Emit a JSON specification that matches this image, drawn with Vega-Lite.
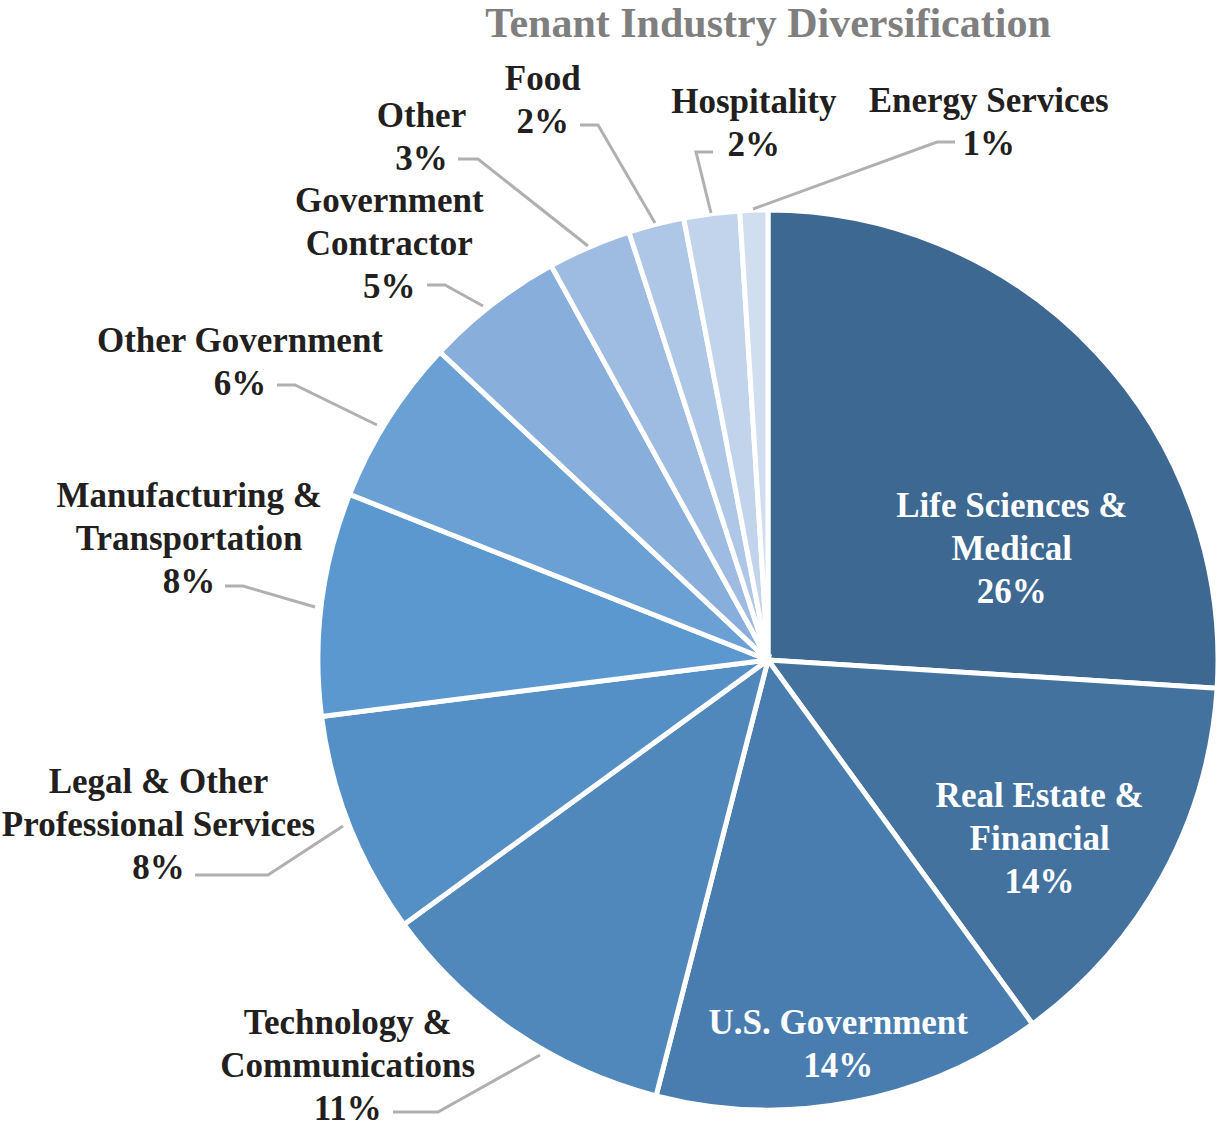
{
  "$schema": "https://vega.github.io/schema/vega-lite/v6.json",
  "width": 906,
  "height": 896,
  "autosize": {"type": "none"},
  "padding": {"left": 315, "top": 212, "right": 0, "bottom": 23},
  "background": "white",
  "title": {
    "text": "Tenant Industry Diversification",
    "anchor": "middle",
    "frame": "group",
    "font": "Liberation Serif",
    "fontSize": 42,
    "fontWeight": "bold",
    "color": "#7F7F7F",
    "baseline": "alphabetic",
    "offset": -55
  },
  "config": {
    "view": {"stroke": null},
    "text": {
      "font": "Liberation Serif",
      "fontSize": 35,
      "fontWeight": "bold",
      "lineHeight": 43,
      "lineBreak": "\n",
      "align": "center",
      "baseline": "alphabetic"
    }
  },
  "data": {
    "values": [
      {"idx": 1, "category": "Life Sciences & Medical", "pct": 26, "label": "Life Sciences &\nMedical\n26%"},
      {"idx": 2, "category": "Real Estate & Financial", "pct": 14, "label": "Real Estate &\nFinancial\n14%"},
      {"idx": 3, "category": "U.S. Government", "pct": 14, "label": "U.S. Government\n14%"},
      {"idx": 4, "category": "Technology & Communications", "pct": 11, "label": "Technology &\nCommunications\n11%"},
      {"idx": 5, "category": "Legal & Other Professional Services", "pct": 8, "label": "Legal & Other\nProfessional Services\n8%"},
      {"idx": 6, "category": "Manufacturing & Transportation", "pct": 8, "label": "Manufacturing &\nTransportation\n8%"},
      {"idx": 7, "category": "Other Government", "pct": 6, "label": "Other Government\n6%"},
      {"idx": 8, "category": "Government Contractor", "pct": 5, "label": "Government\nContractor\n5%"},
      {"idx": 9, "category": "Other", "pct": 3, "label": "Other\n3%"},
      {"idx": 10, "category": "Food", "pct": 2, "label": "Food\n2%"},
      {"idx": 11, "category": "Hospitality", "pct": 2, "label": "Hospitality\n2%"},
      {"idx": 12, "category": "Energy Services", "pct": 1, "label": "Energy Services\n1%"}
    ]
  },
  "layer": [
    {
      "mark": {"type": "arc", "radius": 450, "stroke": "#FFFFFF", "strokeWidth": 5},
      "encoding": {
        "theta": {"field": "pct", "type": "quantitative", "stack": true},
        "order": {"field": "idx", "type": "quantitative"},
        "color": {
          "field": "category",
          "type": "nominal",
          "legend": null,
          "scale": {
            "domain": ["Life Sciences & Medical", "Real Estate & Financial", "U.S. Government", "Technology & Communications", "Legal & Other Professional Services", "Manufacturing & Transportation", "Other Government", "Government Contractor", "Other", "Food", "Hospitality", "Energy Services"],
            "range": ["#3D6891", "#43729F", "#4A7DAF", "#5088BC", "#548FC6", "#5B98CF", "#6BA0D4", "#88AEDB", "#9EBCE1", "#AFC7E6", "#C2D4EC", "#D1DEF0"]
          }
        }
      }
    },
    {
      "transform": [{"filter": "datum.idx >= 4"}],
      "mark": {"type": "point", "size": 4, "filled": false, "opacity": 1, "color": "#B0B0B0", "strokeWidth": 3},
      "encoding": {
        "shape": {
          "field": "category",
          "type": "nominal",
          "legend": null,
          "scale": {
            "domain": ["Technology & Communications", "Legal & Other Professional Services", "Manufacturing & Transportation", "Other Government", "Government Contractor", "Other", "Food", "Hospitality", "Energy Services"],
            "range": [
              "M -228 395 L -330 452 L -375 452",
              "M -425 166 L -500 215 L -573 215",
              "M -453 -53 L -525 -74 L -543 -74",
              "M -391 -235 L -473 -275 L -491 -275",
              "M -285 -354 L -323 -375 L -341 -375",
              "M -180 -414 L -290 -501 L -310 -501",
              "M -113 -437 L -170 -535 L -188 -535",
              "M -57 -447 L -72 -508 L -55 -508",
              "M -15 -451 L 169 -518 L 187 -518"
            ]
          }
        }
      }
    },
    {
      "mark": {"type": "text", "radius": 270, "dx": 47, "dy": 42, "fill": "#FFFFFF"},
      "encoding": {
        "theta": {"field": "pct", "type": "quantitative", "stack": true},
        "order": {"field": "idx", "type": "quantitative"},
        "detail": {"field": "idx", "type": "nominal"},
        "text": {"condition": {"test": "datum.idx === 1", "field": "label"}, "value": ""}
      }
    },
    {
      "mark": {"type": "text", "radius": 270, "dx": 35, "dy": 17, "fill": "#FFFFFF"},
      "encoding": {
        "theta": {"field": "pct", "type": "quantitative", "stack": true},
        "order": {"field": "idx", "type": "quantitative"},
        "detail": {"field": "idx", "type": "nominal"},
        "text": {"condition": {"test": "datum.idx === 2", "field": "label"}, "value": ""}
      }
    },
    {
      "mark": {"type": "text", "radius": 380, "dx": -1, "dy": 1, "fill": "#FFFFFF"},
      "encoding": {
        "theta": {"field": "pct", "type": "quantitative", "stack": true},
        "order": {"field": "idx", "type": "quantitative"},
        "detail": {"field": "idx", "type": "nominal"},
        "text": {"condition": {"test": "datum.idx === 3", "field": "label"}, "value": ""}
      }
    },
    {
      "mark": {"type": "text", "radius": 520, "dx": -128, "dy": -56, "fill": "#231F20"},
      "encoding": {
        "theta": {"field": "pct", "type": "quantitative", "stack": true},
        "order": {"field": "idx", "type": "quantitative"},
        "detail": {"field": "idx", "type": "nominal"},
        "text": {"condition": {"test": "datum.idx === 4", "field": "label"}, "value": ""}
      }
    },
    {
      "mark": {"type": "text", "radius": 520, "dx": -126, "dy": -58, "fill": "#231F20"},
      "encoding": {
        "theta": {"field": "pct", "type": "quantitative", "stack": true},
        "order": {"field": "idx", "type": "quantitative"},
        "detail": {"field": "idx", "type": "nominal"},
        "text": {"condition": {"test": "datum.idx === 5", "field": "label"}, "value": ""}
      }
    },
    {
      "mark": {"type": "text", "radius": 520, "dx": -63, "dy": -88, "fill": "#231F20"},
      "encoding": {
        "theta": {"field": "pct", "type": "quantitative", "stack": true},
        "order": {"field": "idx", "type": "quantitative"},
        "detail": {"field": "idx", "type": "nominal"},
        "text": {"condition": {"test": "datum.idx === 6", "field": "label"}, "value": ""}
      }
    },
    {
      "mark": {"type": "text", "radius": 520, "dx": -89, "dy": -29, "fill": "#231F20"},
      "encoding": {
        "theta": {"field": "pct", "type": "quantitative", "stack": true},
        "order": {"field": "idx", "type": "quantitative"},
        "detail": {"field": "idx", "type": "nominal"},
        "text": {"condition": {"test": "datum.idx === 7", "field": "label"}, "value": ""}
      }
    },
    {
      "mark": {"type": "text", "radius": 520, "dx": -60, "dy": -37, "fill": "#231F20"},
      "encoding": {
        "theta": {"field": "pct", "type": "quantitative", "stack": true},
        "order": {"field": "idx", "type": "quantitative"},
        "detail": {"field": "idx", "type": "nominal"},
        "text": {"condition": {"test": "datum.idx === 8", "field": "label"}, "value": ""}
      }
    },
    {
      "mark": {"type": "text", "radius": 520, "dx": -140, "dy": -56, "fill": "#231F20"},
      "encoding": {
        "theta": {"field": "pct", "type": "quantitative", "stack": true},
        "order": {"field": "idx", "type": "quantitative"},
        "detail": {"field": "idx", "type": "nominal"},
        "text": {"condition": {"test": "datum.idx === 9", "field": "label"}, "value": ""}
      }
    },
    {
      "mark": {"type": "text", "radius": 520, "dx": -96, "dy": -66, "fill": "#231F20"},
      "encoding": {
        "theta": {"field": "pct", "type": "quantitative", "stack": true},
        "order": {"field": "idx", "type": "quantitative"},
        "detail": {"field": "idx", "type": "nominal"},
        "text": {"condition": {"test": "datum.idx === 10", "field": "label"}, "value": ""}
      }
    },
    {
      "mark": {"type": "text", "radius": 520, "dx": 51, "dy": -31, "fill": "#231F20"},
      "encoding": {
        "theta": {"field": "pct", "type": "quantitative", "stack": true},
        "order": {"field": "idx", "type": "quantitative"},
        "detail": {"field": "idx", "type": "nominal"},
        "text": {"condition": {"test": "datum.idx === 11", "field": "label"}, "value": ""}
      }
    },
    {
      "mark": {"type": "text", "radius": 520, "dx": 237, "dy": -28, "fill": "#231F20"},
      "encoding": {
        "theta": {"field": "pct", "type": "quantitative", "stack": true},
        "order": {"field": "idx", "type": "quantitative"},
        "detail": {"field": "idx", "type": "nominal"},
        "text": {"condition": {"test": "datum.idx === 12", "field": "label"}, "value": ""}
      }
    }
  ]
}
